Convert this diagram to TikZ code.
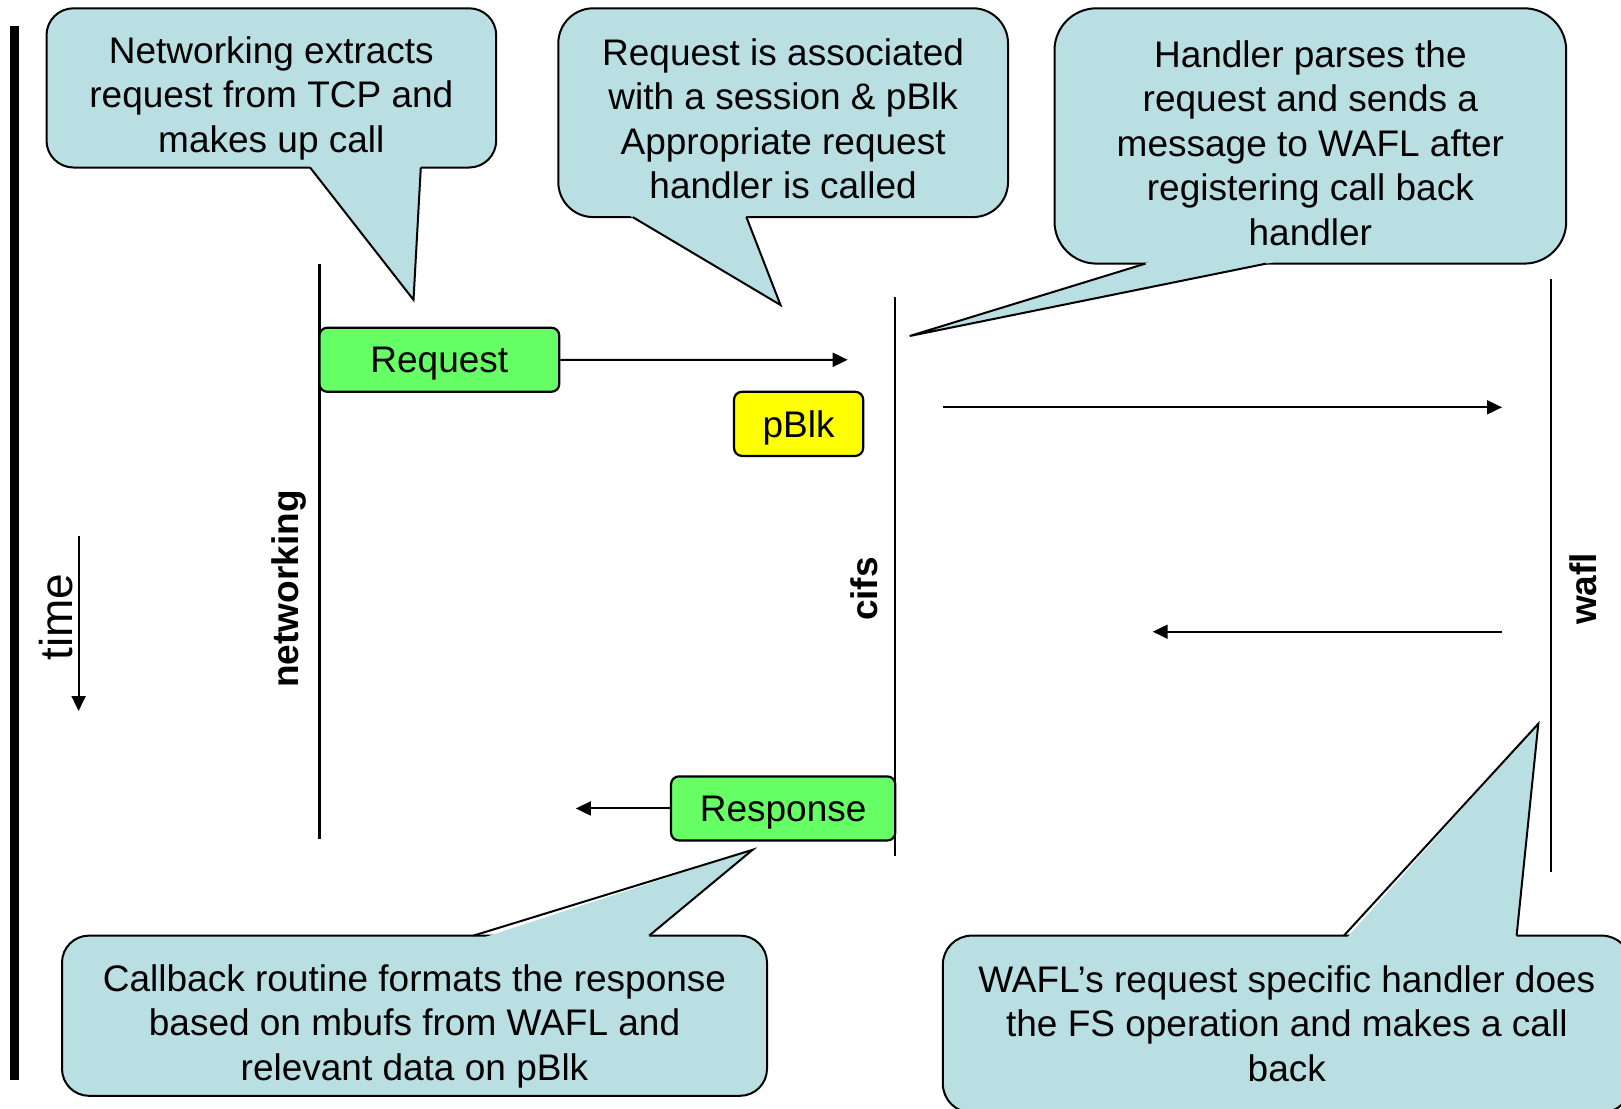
\documentclass[tikz,border=0pt]{standalone}
\usepackage{fontspec}
\setmainfont{Liberation Sans}
\usetikzlibrary{arrows.meta}
\definecolor{callfill}{HTML}{B9DFE3}
\definecolor{boxgreen}{HTML}{66FF66}
\definecolor{boxyellow}{HTML}{FFFF00}
\newcommand{\lowered}[2]{\raisebox{-#1}[\height][\depth]{#2}}
\begin{document}
\begin{tikzpicture}[x=1pt,y=-1pt,
  txt/.style={font=\fontsize{37}{44.5}\selectfont},
  callshape/.style={draw=black, line width=2pt, fill=callfill},
  calltext/.style={align=center, inner sep=0pt, txt},
  tailfill/.style={fill=callfill},
  tailline/.style={draw=black, line width=2pt, line join=miter},
  msgbox/.style={draw=black, line width=2.2pt, rounded corners=8pt, inner sep=0pt, txt},
  life/.style={draw=black, line width=2.2pt},
  arr/.style={draw=black, line width=2pt, -{Triangle[length=15pt,width=14pt]}},
  lbl/.style={rotate=90, font=\fontsize{37}{44}\selectfont\bfseries},
]
\useasboundingbox (0,0) rectangle (1621,1108);
\clip (0,0) rectangle (1621,1108);
\fill[white] (0,0) rectangle (1621,1108);

% left time bar
\coordinate (bartop) at (14.5,26);
\coordinate (barbot) at (14.5,1080);
\draw[line width=8.5pt] (bartop) -- (barbot);

% lifelines
\coordinate (nettop) at (319.4,263.6);
\coordinate (netbot) at (319.4,839.4);
\coordinate (cifstop) at (895.3,296.7);
\coordinate (cifsbot) at (895.3,856);
\coordinate (wafltop) at (1550.7,279);
\coordinate (waflbot) at (1550.7,871.5);
\draw[life] (nettop) -- (netbot);
\draw[life] (cifstop) -- (cifsbot);
\draw[life] (wafltop) -- (waflbot);

% lifeline labels
\node[lbl] (lnet) at (289.5,589) {networking};
\node[lbl] (lcifs) at (864.3,589) {cifs};
\node[lbl] (lwafl) at (1583.7,589) {wafl};
\node[rotate=90, font=\fontsize{46}{50}\selectfont] (ltime) at (56,617) {time};
\coordinate (timetop) at (78.6,535.5);
\coordinate (timebot) at (78.6,711);
\draw[arr] (timetop) -- (timebot);

% message boxes
\node[msgbox, fill=boxgreen, minimum width=239.9pt, minimum height=64.1pt] (req) at (439.35,359.75) {\lowered{4pt}{Request}};
\node[msgbox, fill=boxyellow, minimum width=129.2pt, minimum height=64.1pt] (pblk) at (798.6,423.85) {\lowered{4pt}{pBlk}};
\node[msgbox, fill=boxgreen, minimum width=224.3pt, minimum height=64.1pt] (resp) at (783.15,808.45) {\lowered{4pt}{Response}};

% arrows
\coordinate (reqend) at (847.7,359.8);
\draw[arr] (req.east) -- (reqend);
\coordinate (m2start) at (942.8,407.3);
\coordinate (m2end) at (1502,407.3);
\draw[arr] (m2start) -- (m2end);
\coordinate (m3start) at (1502,631.7);
\coordinate (m3end) at (1152.7,631.7);
\draw[arr] (m3start) -- (m3end);
\coordinate (respend) at (575.8,808.45);
\draw[arr] (resp.west) -- (respend);

% callout 1
\draw[callshape, rounded corners=27pt] (46.5,8.3) rectangle (496.2,167.5);
\coordinate (tip1) at (413.5,299.8);
\fill[tailfill] (308,164) -- (tip1) -- (421,164) -- cycle;
\draw[tailline] (310.1,167.5) -- (tip1) -- (420.8,167.5);
\node[calltext] (c1) at (271.35,98)
  {Networking extracts\\request from TCP and\\makes up call};

% callout 2
\draw[callshape, rounded corners=35pt] (558.3,8.3) rectangle (1008,217.1);
\coordinate (tip2) at (780.5,305);
\fill[tailfill] (627,214) -- (tip2) -- (745.2,214) -- cycle;
\draw[tailline] (632.7,217.1) -- (tip2) -- (746.4,217.1);
\node[calltext] (c2) at (783.15,119)
  {Request is associated\\with a session \& pBlk\\Appropriate request\\handler is called};

% callout 3
\draw[callshape, rounded corners=42pt] (1054.5,8.3) rectangle (1566.2,263.6);
\coordinate (tip3) at (909.7,336);
\fill[tailfill] (1154,260.5) -- (tip3) -- (1282,260.5) -- cycle;
\draw[tailline] (1145.5,263.6) -- (tip3) -- (1266.4,263.6);
\node[calltext] (c3) at (1310.35,143)
  {Handler parses the\\request and sends a\\message to WAFL after\\registering call back\\handler};

% callout 4
\draw[callshape, rounded corners=27pt] (62,935.6) rectangle (767,1095.8);
\coordinate (tip4) at (752.6,849.8);
\fill[tailfill] (480,938.7) -- (tip4) -- (646.5,938.7) -- cycle;
\draw[tailline] (473.5,935.6) -- (tip4) -- (649.2,935.6);
\node[calltext] (c4) at (414.5,1026)
  {Callback routine formats the response\\based on mbufs from WAFL and\\relevant data on pBlk};

% callout 5
\draw[callshape, rounded corners=29pt] (942.8,935.6) rectangle (1630.8,1112.6);
\coordinate (tip5) at (1538.3,723.7);
\fill[tailfill] (1346,938.7) -- (tip5) -- (1516.4,938.7) -- cycle;
\draw[tailline] (1343.9,935.6) -- (tip5) -- (1516.6,935.6);
\node[calltext] (c5) at (1286.8,1023.5)
  {WAFL’s request specific handler does\\the FS operation and makes a call\\back};
\end{tikzpicture}
\end{document}
